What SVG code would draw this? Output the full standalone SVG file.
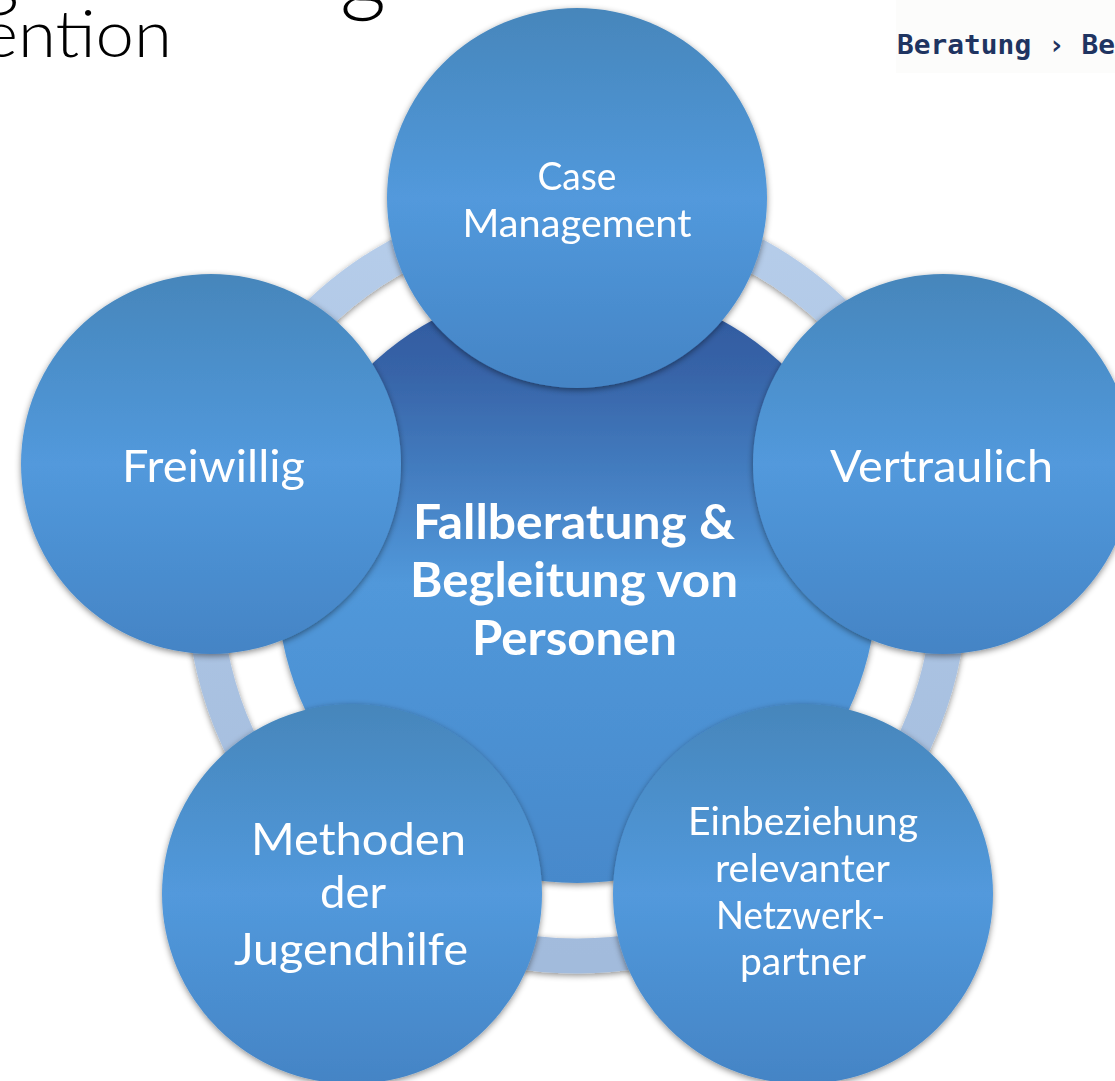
<svg xmlns="http://www.w3.org/2000/svg" width="1115" height="1081" viewBox="0 0 1115 1081">
<style>
.lbl{font-family:"Lato","Open Sans","Liberation Sans",sans-serif;fill:#ffffff;text-anchor:middle}
.big{font-size:44px}
.small{font-size:39px}
.ctr{font-size:48px;font-weight:bold}
.title{font-family:"Lato","Open Sans","Liberation Sans",sans-serif;font-weight:300;fill:#000000}
.crumb{font-family:"DejaVu Sans Mono","Liberation Mono",monospace;font-weight:bold;font-size:27px;fill:#1f3461}
.node{filter:url(#sh)}
</style>
<defs>
<linearGradient id="gOuter" x1="0" y1="0" x2="0" y2="1">
<stop offset="0" stop-color="#4686bb"/>
<stop offset="0.5" stop-color="#5299dc"/>
<stop offset="1" stop-color="#4484c5"/>
</linearGradient>
<linearGradient id="gMain" x1="0" y1="0" x2="0" y2="1">
<stop offset="0" stop-color="#2f569c"/>
<stop offset="0.15" stop-color="#3764a8"/>
<stop offset="0.5" stop-color="#5198da"/>
<stop offset="1" stop-color="#4789cb"/>
</linearGradient>
<linearGradient id="gRing" x1="0" y1="0" x2="0" y2="1">
<stop offset="0" stop-color="#b6cdea"/>
<stop offset="1" stop-color="#a2bbdc"/>
</linearGradient>
<filter id="sh" x="-10%" y="-10%" width="120%" height="120%">
<feDropShadow dx="0" dy="2" stdDeviation="3" flood-color="#000" flood-opacity="0.45"/>
</filter>
</defs>
<rect width="1115" height="1081" fill="#ffffff"/>
<rect x="896" y="0" width="219" height="73" fill="#fcfcfb"/>
<text class="crumb" x="897" y="54" textLength="218" lengthAdjust="spacingAndGlyphs">Beratung › Be</text>
<text class="title" x="-22" y="1" font-size="80">g</text>
<text class="title" x="340" y="4" font-size="90">g</text>
<text class="title" x="-18" y="57" font-size="66" textLength="190" lengthAdjust="spacingAndGlyphs">ention</text>

<g id="connectors">
<circle cx="577" cy="583" r="373" fill="none" stroke="url(#gRing)" stroke-width="35" filter="url(#sh)"/>
</g>

<g id="node-center" class="node">
<circle cx="577" cy="583" r="300" fill="url(#gMain)"/>
<text class="lbl ctr" x="574" y="539" textLength="322" lengthAdjust="spacingAndGlyphs">Fallberatung &amp;</text>
<text class="lbl ctr" x="574" y="597" textLength="328" lengthAdjust="spacingAndGlyphs">Begleitung von</text>
<text class="lbl ctr" x="574.5" y="655" textLength="205" lengthAdjust="spacingAndGlyphs">Personen</text>
</g>

<g id="node-case" class="node">
<circle cx="577" cy="198" r="190" fill="url(#gOuter)"/>
<text class="lbl small" x="577" y="190" textLength="79" lengthAdjust="spacingAndGlyphs">Case</text>
<text class="lbl small" x="577" y="237" textLength="229" lengthAdjust="spacingAndGlyphs">Management</text>
</g>

<g id="node-freiwillig" class="node">
<circle cx="211" cy="464" r="190" fill="url(#gOuter)"/>
<text class="lbl big" x="213.5" y="482" textLength="183" lengthAdjust="spacingAndGlyphs">Freiwillig</text>
</g>

<g id="node-vertraulich" class="node">
<circle cx="943" cy="464" r="190" fill="url(#gOuter)"/>
<text class="lbl big" x="941.5" y="482" textLength="223" lengthAdjust="spacingAndGlyphs">Vertraulich</text>
</g>

<g id="node-methoden" class="node">
<circle cx="352" cy="894" r="190" fill="url(#gOuter)"/>
<text class="lbl big" x="358.5" y="855" textLength="215" lengthAdjust="spacingAndGlyphs">Methoden</text>
<text class="lbl big" x="353" y="908" textLength="66" lengthAdjust="spacingAndGlyphs">der</text>
<text class="lbl big" x="351" y="965" textLength="234" lengthAdjust="spacingAndGlyphs">Jugendhilfe</text>
</g>

<g id="node-einbeziehung" class="node">
<circle cx="803" cy="894" r="190" fill="url(#gOuter)"/>
<text class="lbl small" x="803" y="835" textLength="230" lengthAdjust="spacingAndGlyphs">Einbeziehung</text>
<text class="lbl small" x="802.5" y="882" textLength="175" lengthAdjust="spacingAndGlyphs">relevanter</text>
<text class="lbl small" x="800.5" y="929" textLength="169" lengthAdjust="spacingAndGlyphs">Netzwerk-</text>
<text class="lbl small" x="803" y="975" textLength="126" lengthAdjust="spacingAndGlyphs">partner</text>
</g>
</svg>
